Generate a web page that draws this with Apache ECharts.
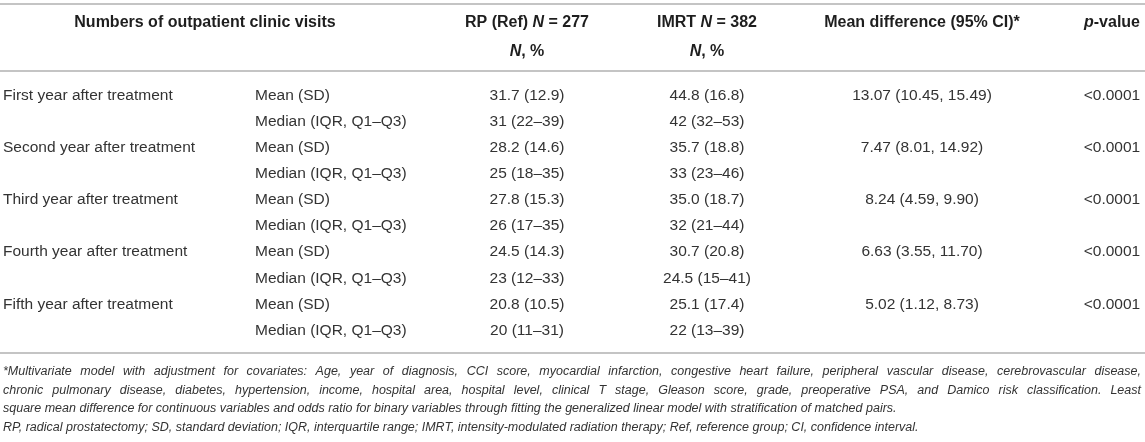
<!DOCTYPE html>
<html>
<head>
<meta charset="utf-8">
<title>Outpatient clinic visits</title>
<script src="https://cdn.jsdelivr.net/npm/echarts@6/dist/echarts.min.js"></script>
<style>
    html, body { margin: 0; padding: 0; background: #fff; }
    #container { width: 1145px; height: 442px; }
</style>
</head>
<body>
<div id="container"></div>
<script>
// 数据
var periods = ['First year after treatment', 'Second year after treatment', 'Third year after treatment',
    'Fourth year after treatment', 'Fifth year after treatment'];
var statLabels = ['Mean (SD)', 'Median (IQR, Q1\u2013Q3)'];

var rpMean = [31.7, 28.2, 27.8, 24.5, 20.8];
var rpSD = [12.9, 14.6, 15.3, 14.3, 10.5];
var rpMedian = [31, 25, 26, 23, 20];
var rpQ1 = [22, 18, 17, 12, 11];
var rpQ3 = [39, 35, 35, 33, 31];

var imrtMean = [44.8, 35.7, 35.0, 30.7, 25.1];
var imrtSD = [16.8, 18.8, 18.7, 20.8, 17.4];
var imrtMedian = [42, 33, 32, 24.5, 22];
var imrtQ1 = [32, 23, 21, 15, 13];
var imrtQ3 = [53, 46, 44, 41, 39];

var meanDiff = [13.07, 7.47, 8.24, 6.63, 5.02];
var ciLow = [10.45, 8.01, 4.59, 3.55, 1.12];
var ciHigh = [15.49, 14.92, 9.90, 11.70, 8.73];
var pValues = ['<0.0001', '<0.0001', '<0.0001', '<0.0001', '<0.0001'];

var footnotes = [
    '*Multivariate model with adjustment for covariates: Age, year of diagnosis, CCI score, myocardial infarction, congestive heart failure, peripheral vascular disease, cerebrovascular disease,',
    'chronic pulmonary disease, diabetes, hypertension, income, hospital area, hospital level, clinical T stage, Gleason score, grade, preoperative PSA, and Damico risk classification. Least',
    'square mean difference for continuous variables and odds ratio for binary variables through fitting the generalized linear model with stratification of matched pairs.',
    'RP, radical prostatectomy; SD, standard deviation; IQR, interquartile range; IMRT, intensity-modulated radiation therapy; Ref, reference group; CI, confidence interval.'
];
// 前两行两端对齐
var justified = [true, true, false, false];

// 版式
var FONT = '"Liberation Sans", Arial, Helvetica, sans-serif';
var TEXT_COLOR = '#333';
var HEAD_COLOR = '#1e1e1e';
var RULE_COLOR = '#c4c4c4';
var NOTE_SIZE = 12.5;
var columns = {
    period: { x: 3, align: 'left' },
    stat: { x: 255, align: 'left' },
    rp: { x: 527, align: 'center' },
    imrt: { x: 707, align: 'center' },
    diff: { x: 922, align: 'center' },
    p: { x: 1112, align: 'center' }
};

function meanSd(m, s) { return m.toFixed(1) + ' (' + s.toFixed(1) + ')'; }
function medianIqr(m, a, b) { return m + ' (' + a + '\u2013' + b + ')'; }

// 每行: Mean 行 和 Median 行
var rowKeys = [];
var cells = { period: [], stat: [], rp: [], imrt: [], diff: [], p: [] };
periods.forEach(function (name, i) {
    var meanRow = rowKeys.length;
    rowKeys.push(name + ' mean');
    rowKeys.push(name + ' median');
    var medRow = meanRow + 1;
    cells.period.push([meanRow, name]);
    cells.stat.push([meanRow, statLabels[0]]);
    cells.stat.push([medRow, statLabels[1]]);
    cells.rp.push([meanRow, meanSd(rpMean[i], rpSD[i])]);
    cells.rp.push([medRow, medianIqr(rpMedian[i], rpQ1[i], rpQ3[i])]);
    cells.imrt.push([meanRow, meanSd(imrtMean[i], imrtSD[i])]);
    cells.imrt.push([medRow, medianIqr(imrtMedian[i], imrtQ1[i], imrtQ3[i])]);
    cells.diff.push([meanRow, meanDiff[i].toFixed(2) + ' (' + ciLow[i].toFixed(2) + ', ' + ciHigh[i].toFixed(2) + ')']);
    cells.p.push([meanRow, pValues[i]]);
});

function cellSeries(key) {
    var col = columns[key];
    var list = cells[key];
    return {
        type: 'custom',
        name: key,
        silent: true,
        data: list.map(function (c) { return [col.x, c[0]]; }),
        renderItem: function (params, api) {
            var pt = api.coord([api.value(0), api.value(1)]);
            return {
                type: 'text',
                x: pt[0],
                y: pt[1],
                style: {
                    text: list[params.dataIndex][1],
                    align: col.align,
                    verticalAlign: 'middle',
                    fontFamily: FONT,
                    fontSize: 15.5,
                    fill: TEXT_COLOR
                }
            };
        }
    };
}

var headRich = {
    b: { fontFamily: FONT, fontSize: 16, fontWeight: 'bold', fill: HEAD_COLOR },
    bi: { fontFamily: FONT, fontSize: 16, fontWeight: 'bold', fontStyle: 'italic', fill: HEAD_COLOR }
};
function headText(x, y, text) {
    return {
        type: 'text', x: x, y: y, silent: true,
        style: { text: text, rich: headRich, align: 'center', verticalAlign: 'middle', fontFamily: FONT, fontSize: 16 }
    };
}
function rule(y) {
    return {
        type: 'line', silent: true,
        shape: { x1: 0, y1: y, x2: 1145, y2: y },
        style: { stroke: RULE_COLOR, lineWidth: 2 }
    };
}
function noteText(x, y, text) {
    return {
        type: 'text', x: x, y: y, silent: true,
        style: {
            text: text, align: 'left', verticalAlign: 'middle',
            fontFamily: FONT, fontSize: NOTE_SIZE, fontStyle: 'italic', fill: TEXT_COLOR
        }
    };
}

var graphics = [
    rule(4), rule(71), rule(353),
    headText(205, 23, '{b|Numbers of outpatient clinic visits}'),
    headText(columns.rp.x, 23, '{b|RP (Ref) }{bi|N}{b| = 277}'),
    headText(columns.rp.x, 52, '{bi|N}{b|, %}'),
    headText(columns.imrt.x, 23, '{b|IMRT }{bi|N}{b| = 382}'),
    headText(columns.imrt.x, 52, '{bi|N}{b|, %}'),
    headText(columns.diff.x, 23, '{b|Mean difference (95% CI)*}'),
    headText(columns.p.x, 23, '{bi|p}{b|-value}')
];

// 脚注 (两端对齐时逐词摆放)
var ctx = document.createElement('canvas').getContext('2d');
ctx.font = 'italic ' + NOTE_SIZE + 'px ' + FONT;
footnotes.forEach(function (line, i) {
    var y = 372 + i * 18.4;
    if (!justified[i]) {
        graphics.push(noteText(3, y, line));
        return;
    }
    var words = line.split(' ');
    var widths = words.map(function (w) { return ctx.measureText(w).width; });
    var total = widths.reduce(function (a, b) { return a + b; }, 0);
    var gap = (1141 - 3 - total) / (words.length - 1);
    var x = 3;
    words.forEach(function (w, k) {
        graphics.push(noteText(x, y, w));
        x += widths[k] + gap;
    });
});

var option = {
    animation: false,
    grid: { left: 0, right: 0, top: 82.5, height: 261 },
    xAxis: { type: 'value', min: 0, max: 1145, show: false },
    yAxis: { type: 'category', inverse: true, data: rowKeys, show: false },
    graphic: graphics,
    series: ['period', 'stat', 'rp', 'imrt', 'diff', 'p'].map(cellSeries)
};

echarts.init(document.getElementById('container')).setOption(option);
</script>
</body>
</html>
